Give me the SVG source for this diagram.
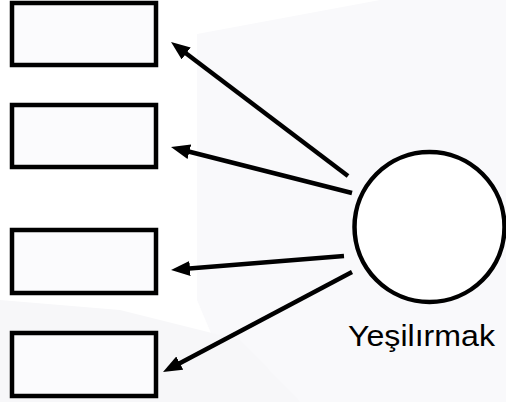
<svg xmlns="http://www.w3.org/2000/svg" width="506" height="402" viewBox="0 0 506 402">
  <style>
    .box { fill: #fbfbfd; stroke: #000; stroke-width: 4.5; }
    .conn { stroke: #000; stroke-width: 4.5; fill: none; }
    .label { font-family: "Liberation Sans", Arial, sans-serif; font-size: 30px; fill: #000; }
  </style>
  <defs>
    <marker id="arrow" viewBox="0 0 19 15" refX="7" refY="7.5" markerWidth="19" markerHeight="15" markerUnits="userSpaceOnUse" orient="auto">
      <path d="M0,0 L19,7.5 L0,15 z" fill="#000"/>
    </marker>
  </defs>
  <g id="background">
    <rect x="0" y="0" width="506" height="402" fill="#ffffff"/>
    <polygon points="197,34 380,0 506,0 506,402 240,402 197,300" fill="#f9f9fb"/>
    <polygon points="0,300 120,310 240,340 300,402 0,402" fill="#f7f7f9"/>
  </g>
  <g id="node-1"><rect class="box" x="12" y="3" width="144" height="62"/></g>
  <g id="node-2"><rect class="box" x="12" y="105" width="144" height="62"/></g>
  <g id="node-3"><rect class="box" x="12" y="230" width="144" height="63"/></g>
  <g id="node-4"><rect class="box" x="12" y="333" width="144" height="63"/></g>
  <g id="node-yesilirmak">
    <circle cx="429.5" cy="227" r="75" fill="#ffffff" stroke="#000" stroke-width="4.5"/>
    <text class="label" x="348" y="346" textLength="147" lengthAdjust="spacingAndGlyphs">Yeşilırmak</text>
  </g>
  <g id="connectors">
    <line class="conn" x1="348" y1="176" x2="180.6" y2="49.2" marker-end="url(#arrow)"/>
    <line class="conn" x1="352" y1="193" x2="182.6" y2="150" marker-end="url(#arrow)"/>
    <line class="conn" x1="344" y1="256" x2="183" y2="269" marker-end="url(#arrow)"/>
    <line class="conn" x1="352" y1="272" x2="173.6" y2="366.4" marker-end="url(#arrow)"/>
  </g>
</svg>
